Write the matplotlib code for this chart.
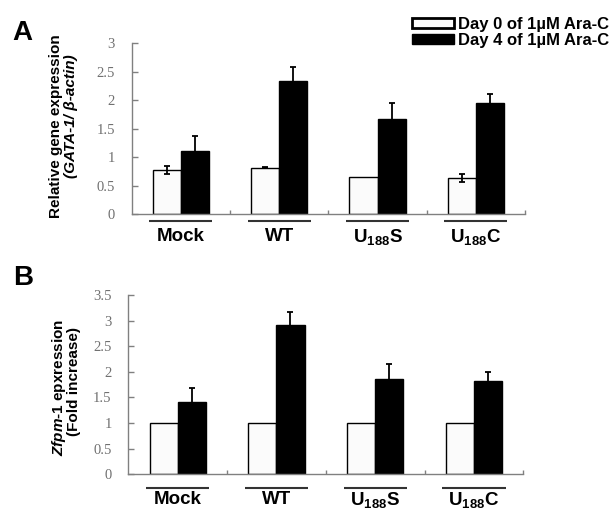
import numpy as np
import matplotlib
matplotlib.use('Agg')
import matplotlib.pyplot as plt

plt.rcParams['font.family'] = ['Liberation Sans', 'DejaVu Sans']
plt.rcParams['mathtext.fontset'] = 'custom'
plt.rcParams['mathtext.rm'] = 'Liberation Sans:bold'
plt.rcParams['mathtext.bf'] = 'Liberation Sans:bold'
plt.rcParams['mathtext.it'] = 'Liberation Sans:italic:bold'

groups = ['Mock', 'WT', r'U$_{188}$S', r'U$_{188}$C']
series = ['Day 0 of 1\u00b5M Ara-C', 'Day 4 of 1\u00b5M Ara-C']

# panel A: GATA-1 / beta-actin
a_day0 = [0.78, 0.82, 0.66, 0.63]
a_day0_err = [0.07, 0.01, 0.0, 0.07]
a_day4 = [1.11, 2.34, 1.68, 1.96]
a_day4_err = [0.26, 0.25, 0.28, 0.15]

# panel B: Zfpm-1 fold increase
b_day0 = [1.0, 1.0, 1.0, 1.0]
b_day0_err = [0.0, 0.0, 0.0, 0.0]
b_day4 = [1.41, 2.91, 1.87, 1.83]
b_day4_err = [0.28, 0.26, 0.29, 0.17]

W, H = 614, 511
fig = plt.figure(figsize=(W / 100, H / 100), dpi=100)

def px_axes(l, r, b, t):
    return fig.add_axes([l / W, 1 - b / H, (r - l) / W, (b - t) / H])

def draw_panel(ax, d0, e0, d4, e4, ymax, line_off, lab_off):
    x = np.arange(len(groups))
    bw = 0.285
    b0 = ax.bar(x - bw / 2, d0, bw, color='#fbfbfb', edgecolor='black', lw=1, zorder=2)
    b4 = ax.bar(x + bw / 2, d4, bw, color='black', edgecolor='black', lw=1, zorder=2)
    for xs, vals, errs in [(x - bw / 2, d0, e0), (x + bw / 2, d4, e4)]:
        keep = [i for i in range(len(vals)) if errs[i] > 0]
        if keep:
            ax.errorbar(xs[keep], np.array(vals)[keep], yerr=np.array(errs)[keep],
                        fmt='none', ecolor='black', elinewidth=1.3, capsize=2.2,
                        capthick=1.3, zorder=3)
    ax.set_xlim(-0.5, len(groups) - 0.5)
    ax.set_ylim(0, ymax)
    ax.set_yticks(np.arange(0, ymax + 0.01, 0.5))
    ax.set_yticklabels(['%g' % v for v in np.arange(0, ymax + 0.01, 0.5)],
                       family='Liberation Serif', fontsize=10.5, color='#707070')
    ax.set_xticks(np.arange(len(groups)) + 0.5)
    ax.set_xticklabels([])
    ax.tick_params(axis='y', direction='in', length=4, width=1, color='#808080', pad=12)
    ax.tick_params(axis='x', direction='in', length=3, width=1, color='#808080')
    for s in ['top', 'right']:
        ax.spines[s].set_visible(False)
    for s in ['left', 'bottom']:
        ax.spines[s].set_color('#808080')
        ax.spines[s].set_linewidth(1)
    tr = ax.get_xaxis_transform()
    for i, g in enumerate(groups):
        ax.plot([i - 0.32, i + 0.32], [line_off, line_off], color='#333333', lw=1.5,
                transform=tr, clip_on=False, solid_capstyle='butt')
        ax.text(i, lab_off, g, transform=tr, ha='center', va='center',
                fontsize=13.5, fontweight='bold')
    return b0, b4

axA = px_axes(131.7, 525, 214.3, 43.3)
hA = draw_panel(axA, a_day0, a_day0_err, a_day4, a_day4_err, 3, -6.4 / 171, -22.5 / 171)

axB = px_axes(128.3, 523.3, 474.3, 295)
draw_panel(axB, b_day0, b_day0_err, b_day4, b_day4_err, 3.5, -14 / 179.3, -25.5 / 179.3)

# panel letters
fig.text(22.5 / W, 1 - 32.7 / H, 'A', fontsize=20, fontweight='bold', ha='center', va='center')
fig.text(23 / W, 1 - 278 / H, 'B', fontsize=20, fontweight='bold', ha='center', va='center')

# y labels
fig.text(56 / W, 1 - 126.5 / H, 'Relative gene expression', rotation=90,
         fontsize=11, fontweight='bold', ha='center', va='center')
fig.text(71 / W, 1 - 116 / H, '(GATA-1/ \u03b2-actin)', rotation=90,
         fontsize=11, fontweight='bold', fontstyle='italic', ha='center', va='center')
fig.text(58.5 / W, 1 - 387 / H, r'$\mathit{Zfpm}$-$\mathit{1}$ epxression', rotation=90,
         fontsize=11, fontweight='bold', ha='center', va='center')
fig.text(74 / W, 1 - 382 / H, '(Fold increase)', rotation=90,
         fontsize=11, fontweight='bold', ha='center', va='center')

leg = fig.legend([hA[0], hA[1]], series, loc='upper left',
                 bbox_to_anchor=(412 / W, 1 - 17 / H), frameon=False, borderpad=0,
                 borderaxespad=0, handlelength=2.5, handleheight=0.48,
                 handletextpad=0.25, labelspacing=0.05,
                 prop={'family': 'Liberation Sans', 'weight': 'bold', 'size': 12})
leg.get_patches()[0].set_linewidth(2)

fig.savefig('out.png', dpi=100)
